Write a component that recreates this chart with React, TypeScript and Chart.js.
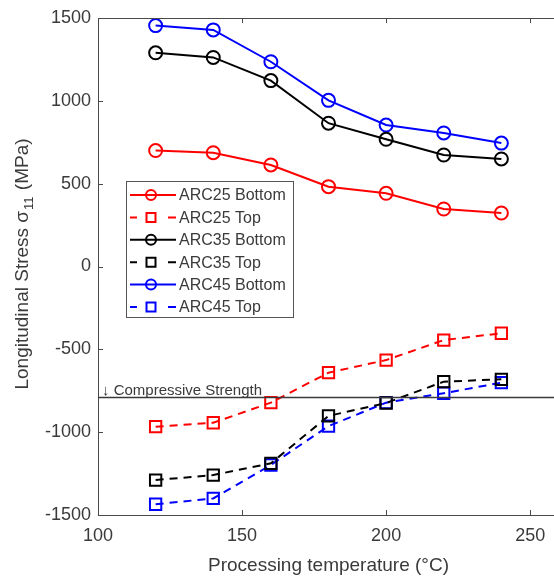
import React, { useEffect, useRef } from "react";
import { Chart, registerables } from "chart.js";

Chart.register(...registerables);

const temperatures = [120, 140, 160, 180, 200, 220, 240];
const arc25Bottom = [700, 687, 613, 482, 442, 347, 323];
const arc25Top = [-967, -943, -822, -641, -565, -444, -403];
const arc35Bottom = [1290, 1262, 1122, 865, 768, 673, 649];
const arc35Top = [-1289, -1259, -1188, -902, -824, -695, -681];
const arc45Bottom = [1454, 1428, 1236, 1003, 854, 806, 745];
const arc45Top = [-1435, -1400, -1198, -963, -822, -765, -701];
const compressiveStrength = -790;
const seriesLabels = ["ARC25 Bottom", "ARC25 Top", "ARC35 Bottom", "ARC35 Top", "ARC45 Bottom", "ARC45 Top"];
const xTicks = [100, 150, 200, 250];
const yTicks = [-1500, -1000, -500, 0, 500, 1000, 1500];

const FONT = "'Liberation Sans', Arial, Helvetica, sans-serif";
const AXIS_COLOR = "#4a4a4a";
const TEXT_COLOR = "#3a3a3a";

function toPoints(values: number[]) {
  return temperatures.map((t, i) => ({ x: t, y: values[i] }));
}

const overlayPlugin = {
  id: "matlabOverlay",
  afterDatasetsDraw(chart: any) {
    const { ctx, chartArea } = chart;
    const xs = chart.scales.x;
    const ys = chart.scales.y;
    ctx.save();
    // box top/right
    ctx.strokeStyle = AXIS_COLOR;
    ctx.lineWidth = 1;
    ctx.beginPath();
    ctx.moveTo(chartArea.left, chartArea.top + 0.5);
    ctx.lineTo(chartArea.right, chartArea.top + 0.5);
    ctx.moveTo(chartArea.right - 0.5, chartArea.top);
    ctx.lineTo(chartArea.right - 0.5, chartArea.bottom);
    ctx.stroke();
    // inward ticks
    const tl = 5;
    ctx.beginPath();
    xTicks.forEach((v) => {
      const px = Math.round(xs.getPixelForValue(v)) + 0.5;
      ctx.moveTo(px, chartArea.bottom);
      ctx.lineTo(px, chartArea.bottom - tl);
      ctx.moveTo(px, chartArea.top);
      ctx.lineTo(px, chartArea.top + tl);
    });
    yTicks.forEach((v) => {
      const py = Math.round(ys.getPixelForValue(v)) + 0.5;
      ctx.moveTo(chartArea.left, py);
      ctx.lineTo(chartArea.left + tl, py);
      ctx.moveTo(chartArea.right, py);
      ctx.lineTo(chartArea.right - tl, py);
    });
    ctx.stroke();

    // compressive strength line
    const cy = Math.round(ys.getPixelForValue(compressiveStrength)) + 0.5;
    ctx.strokeStyle = "#3a3a3a";
    ctx.lineWidth = 1.3;
    ctx.beginPath();
    ctx.moveTo(chartArea.left, cy);
    ctx.lineTo(chartArea.right, cy);
    ctx.stroke();
    ctx.fillStyle = TEXT_COLOR;
    ctx.font = `15px ${FONT}`;
    ctx.textAlign = "left";
    ctx.textBaseline = "alphabetic";
    ctx.fillText("\u2193 Compressive Strength", chartArea.left + 4, cy - 3);

    // legend
    const lx = 126, ly = 181, lw = 167, lh = 136;
    ctx.fillStyle = "#ffffff";
    ctx.fillRect(lx, ly, lw, lh);
    ctx.strokeStyle = "#555555";
    ctx.lineWidth = 1;
    ctx.strokeRect(lx + 0.5, ly + 0.5, lw, lh);
    const datasets = chart.data.datasets;
    datasets.forEach((ds: any, i: number) => {
      const rowY = ly + 14 + i * 22.4;
      const x0 = lx + 4, x1 = lx + 50, mx = lx + 25;
      ctx.strokeStyle = ds.borderColor;
      ctx.lineWidth = 2;
      ctx.beginPath();
      if (ds.borderDash && ds.borderDash.length) {
        ctx.moveTo(x0, rowY); ctx.lineTo(x0 + 7, rowY);
        ctx.moveTo(x1 - 8, rowY); ctx.lineTo(x1, rowY);
      } else {
        ctx.moveTo(x0, rowY); ctx.lineTo(x1, rowY);
      }
      ctx.stroke();
      ctx.beginPath();
      if (ds.pointStyle === "circle") {
        ctx.arc(mx, rowY, 5, 0, Math.PI * 2);
      } else {
        ctx.rect(mx - 4.5, rowY - 4.5, 9, 9);
      }
      ctx.stroke();
      ctx.fillStyle = TEXT_COLOR;
      ctx.font = `16px ${FONT}`;
      ctx.textBaseline = "middle";
      ctx.fillText(ds.label, lx + 53, rowY + 1);
    });

    // y title with subscript
    ctx.translate(23, 264);
    ctx.rotate(-Math.PI / 2);
    ctx.fillStyle = TEXT_COLOR;
    ctx.textBaseline = "middle";
    const part1 = "Longitudinal Stress \u03c3";
    const sub = "11";
    const part3 = " (MPa)";
    ctx.font = `19px ${FONT}`;
    const w1 = ctx.measureText(part1).width;
    const w3 = ctx.measureText(part3).width;
    ctx.font = `13px ${FONT}`;
    const w2 = ctx.measureText(sub).width + 2;
    const total = w1 + w2 + w3;
    let sx = -total / 2;
    ctx.font = `19px ${FONT}`;
    ctx.textAlign = "left";
    ctx.fillText(part1, sx, 0);
    sx += w1 + 1;
    ctx.font = `13px ${FONT}`;
    ctx.fillText(sub, sx, 6);
    sx += w2 - 1;
    ctx.font = `19px ${FONT}`;
    ctx.fillText(part3, sx, 0);
    ctx.restore();
  },
};

export default function App() {
  const canvasRef = useRef<HTMLCanvasElement | null>(null);

  useEffect(() => {
    if (!canvasRef.current) return;
    const mk = (label: string, values: number[], color: string, top: boolean) => ({
      label,
      data: toPoints(values),
      borderColor: color,
      backgroundColor: "transparent",
      borderWidth: 2,
      borderDash: top ? [8, 6] : [],
      pointStyle: top ? "rect" : "circle",
      pointRadius: top ? 8 : 6.5,
      pointBorderWidth: 2,
      pointBorderColor: color,
      pointBackgroundColor: "transparent",
      tension: 0,
      fill: false,
    });
    const chart = new Chart(canvasRef.current, {
      type: "line",
      data: {
        datasets: [
          mk(seriesLabels[0], arc25Bottom, "#ff0000", false),
          mk(seriesLabels[1], arc25Top, "#ff0000", true),
          mk(seriesLabels[2], arc35Bottom, "#000000", false),
          mk(seriesLabels[3], arc35Top, "#000000", true),
          mk(seriesLabels[4], arc45Bottom, "#0000ff", false),
          mk(seriesLabels[5], arc45Top, "#0000ff", true),
        ] as any,
      },
      options: {
        animation: false,
        responsive: false,
        devicePixelRatio: 1,
        layout: { padding: { top: 18, right: 11, left: 0, bottom: 0 } },
        plugins: { legend: { display: false }, tooltip: { enabled: false } },
        scales: {
          x: {
            type: "linear",
            min: 100,
            max: 260,
            grid: { display: false, drawTicks: false },
            border: { display: true, color: AXIS_COLOR, width: 1 },
            afterBuildTicks: (s: any) => {
              s.ticks = xTicks.map((v) => ({ value: v }));
            },
            afterFit: (s: any) => {
              s.height = 64;
            },
            ticks: {
              color: TEXT_COLOR,
              font: { size: 18, family: FONT },
              padding: 10,
              maxRotation: 0,
              autoSkip: false,
              callback: (v: any) => String(v),
            },
            title: {
              display: true,
              text: "Processing temperature (\u00b0C)",
              color: TEXT_COLOR,
              font: { size: 19, family: FONT },
              padding: { top: 0, bottom: 2 },
            },
          },
          y: {
            type: "linear",
            min: -1500,
            max: 1500,
            grid: { display: false, drawTicks: false },
            border: { display: true, color: AXIS_COLOR, width: 1 },
            afterBuildTicks: (s: any) => {
              s.ticks = yTicks.map((v) => ({ value: v }));
            },
            afterFit: (s: any) => {
              s.width = 98;
            },
            ticks: {
              color: TEXT_COLOR,
              font: { size: 18, family: FONT },
              padding: 7,
              autoSkip: false,
              callback: (v: any) => String(v),
            },
          },
        },
      } as any,
      plugins: [overlayPlugin],
    });
    return () => chart.destroy();
  }, []);

  return (
    <div style={{ position: "fixed", left: 0, top: 0, width: 554, height: 579, overflow: "hidden", background: "#fff" }}>
      <canvas ref={canvasRef} width={570} height={579} style={{ display: "block", width: 570, height: 579 }} />
    </div>
  );
}
